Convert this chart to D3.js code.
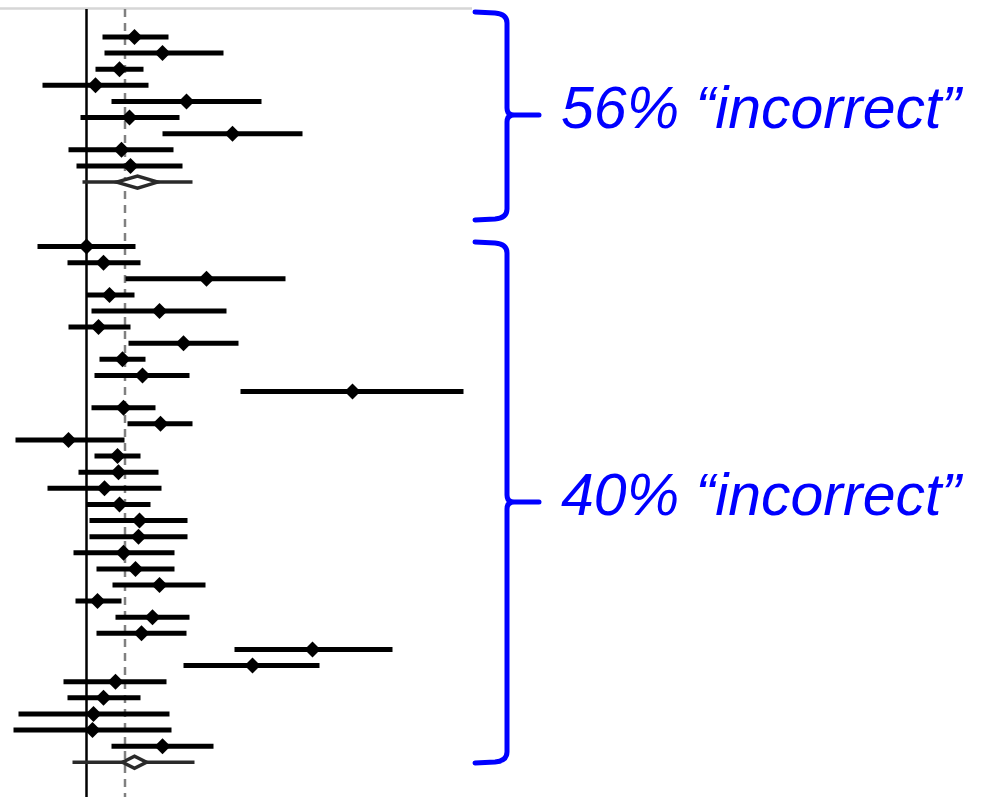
<!DOCTYPE html>
<html>
<head>
<meta charset="utf-8">
<script src="https://cdn.jsdelivr.net/npm/d3@7"></script>
<style>
  html, body { margin: 0; padding: 0; background: #fff; }
  svg { display: block; }
</style>
</head>
<body>
<svg id="chart" width="984" height="797"></svg>
<script>
// ---- Data (effect size estimates with 95% CI) ----
// Group 1: "56% incorrect"
const group1Est = [0.48, 0.76, 0.33, 0.09, 1.00, 0.43, 1.46, 0.35, 0.44];
const group1Lo  = [0.16, 0.18, 0.09, -0.44, 0.25, -0.06, 0.76, -0.18, -0.10];
const group1Hi  = [0.82, 1.37, 0.57, 0.62, 1.75, 0.93, 2.16, 0.87, 0.96];
// summary: [estimate, diamond low, diamond high, interval low, interval high]
const group1Summary = [0.51, 0.30, 0.71, -0.04, 1.06];

// Group 2: "40% incorrect"
const group2Est = [0.00, 0.17, 1.20, 0.23, 0.73, 0.12, 0.97, 0.36, 0.56, 2.66,
                   0.37, 0.74, -0.18, 0.31, 0.32, 0.18, 0.33, 0.53, 0.52, 0.37,
                   0.49, 0.73, 0.11, 0.66, 0.55, 2.26, 1.66, 0.29, 0.17, 0.07,
                   0.06, 0.76];
const group2Lo  = [-0.49, -0.19, 0.39, 0.00, 0.05, -0.18, 0.42, 0.13, 0.08, 1.54,
                   0.05, 0.41, -0.71, 0.08, -0.08, -0.39, 0.00, 0.03, 0.03, -0.13,
                   0.10, 0.26, -0.11, 0.29, 0.10, 1.48, 0.97, -0.23, -0.19, -0.68,
                   -0.73, 0.25];
const group2Hi  = [0.49, 0.54, 1.99, 0.48, 1.40, 0.44, 1.52, 0.59, 1.03, 3.77,
                   0.69, 1.06, 0.38, 0.54, 0.72, 0.75, 0.64, 1.01, 1.01, 0.88,
                   0.88, 1.19, 0.35, 1.03, 1.00, 3.06, 2.33, 0.80, 0.54, 0.83,
                   0.85, 1.27];
const group2Summary = [0.48, 0.36, 0.60, -0.14, 1.08];

const nullValue = 0;
const overallMean = 0.385;

const labels = ["56% \u201Cincorrect\u201D", "40% \u201Cincorrect\u201D"];

// ---- Layout ----
const svg = d3.select("#chart");
const W = 984, H = 797;

const x = d3.scaleLinear().domain([0, 1]).range([86.5, 186.5]);
// row index: group1 rows 0..9 (9 = summary), gap, group2 rows 13..45 (45 = summary)
const y = d3.scaleLinear().domain([0, 45]).range([37, 762.3]);

const g1Start = 0, g2Start = 13;

const rows = [];
group1Est.forEach((v, i) => rows.push({r: g1Start + i, est: v, lo: group1Lo[i], hi: group1Hi[i]}));
group2Est.forEach((v, i) => rows.push({r: g2Start + i, est: v, lo: group2Lo[i], hi: group2Hi[i]}));
const summaries = [
  {r: g1Start + group1Est.length, s: group1Summary},
  {r: g2Start + group2Est.length, s: group2Summary}
];

// top gray border
svg.append("line")
  .attr("x1", 0).attr("x2", 472)
  .attr("y1", 8.5).attr("y2", 8.5)
  .attr("stroke", "#d6d6d6").attr("stroke-width", 2.5);

// reference lines
svg.append("line")
  .attr("x1", x(nullValue)).attr("x2", x(nullValue))
  .attr("y1", 9).attr("y2", H)
  .attr("stroke", "#000").attr("stroke-width", 2.5);

svg.append("line")
  .attr("x1", x(overallMean)).attr("x2", x(overallMean))
  .attr("y1", 9).attr("y2", H)
  .attr("stroke", "#808080").attr("stroke-width", 2.5)
  .attr("stroke-dasharray", "8,6");

// study CI lines
svg.append("g").selectAll("line").data(rows).join("line")
  .attr("x1", d => x(d.lo)).attr("x2", d => x(d.hi))
  .attr("y1", d => y(d.r)).attr("y2", d => y(d.r))
  .attr("stroke", "#000").attr("stroke-width", 5);

// study point diamonds
const dh = 8;
svg.append("g").selectAll("path").data(rows).join("path")
  .attr("d", d => {
    const cx = x(d.est), cy = y(d.r);
    return `M${cx - dh},${cy} L${cx},${cy - dh} L${cx + dh},${cy} L${cx},${cy + dh} Z`;
  })
  .attr("fill", "#000");

// summary rows
const sg = svg.append("g").selectAll("g").data(summaries).join("g");
sg.append("line")
  .attr("x1", d => x(d.s[3])).attr("x2", d => x(d.s[4]))
  .attr("y1", d => y(d.r)).attr("y2", d => y(d.r))
  .attr("stroke", "#2a2a2a").attr("stroke-width", 3.5);
sg.append("path")
  .attr("d", d => {
    const cy = y(d.r), h = 6;
    return `M${x(d.s[1])},${cy} L${x(d.s[0])},${cy - h} L${x(d.s[2])},${cy} L${x(d.s[0])},${cy + h} Z`;
  })
  .attr("fill", "#fff").attr("stroke", "#2a2a2a").attr("stroke-width", 3.5)
  .attr("stroke-linejoin", "miter");

// braces
function bracePath(top, mid, bottom) {
  const xl = 475, xv = 507, xt = 539;
  return `M${xl},${top} L${xv - 12},${top + 1} Q${xv},${top + 2} ${xv},${top + 11} ` +
         `L${xv},${mid - 7} Q${xv},${mid} ${xv + 7},${mid} L${xt},${mid} ` +
         `M${xv + 7},${mid} Q${xv},${mid} ${xv},${mid + 7} ` +
         `L${xv},${bottom - 11} Q${xv},${bottom - 2} ${xv - 12},${bottom - 1} L${xl},${bottom}`;
}
const braces = [
  {top: 12, mid: 115, bottom: 220, label: labels[0]},
  {top: 242, mid: 502, bottom: 763, label: labels[1]}
];
svg.append("g").selectAll("path").data(braces).join("path")
  .attr("d", d => bracePath(d.top, d.mid, d.bottom))
  .attr("fill", "none").attr("stroke", "#0000ff").attr("stroke-width", 5)
  .attr("stroke-linecap", "round").attr("stroke-linejoin", "round");

svg.append("g").selectAll("text").data(braces).join("text")
  .attr("x", 561).attr("y", d => d.mid + 13)
  .attr("font-family", "'Liberation Sans', Arial, Helvetica, sans-serif")
  .attr("font-style", "italic")
  .attr("font-size", 59)
  .attr("fill", "#0000ff")
  .text(d => d.label);
</script>
</body>
</html>
